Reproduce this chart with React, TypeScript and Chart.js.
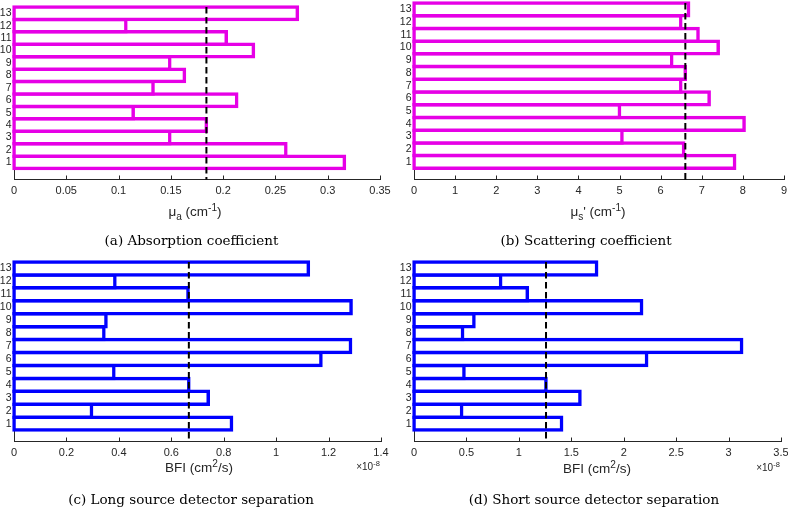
import React, { useEffect, useRef } from 'react';
import { Chart, registerables } from 'chart.js';

Chart.register(...registerables);

// ---------- data ----------
const SUBJECTS = [1, 2, 3, 4, 5, 6, 7, 8, 9, 10, 11, 12, 13];

// (a) absorption coefficient, cm^-1
const MU_A = [0.316, 0.26, 0.149, 0.184, 0.114, 0.213, 0.133, 0.163, 0.149, 0.229, 0.203, 0.107, 0.271];
// (b) reduced scattering coefficient, cm^-1
const MU_S = [7.8, 6.56, 5.06, 8.03, 5.0, 7.18, 6.49, 6.6, 6.27, 7.4, 6.91, 6.49, 6.68];
// (c) BFI long separation, x1e-8 cm^2/s
const BFI_LONG = [0.83, 0.296, 0.741, 0.667, 0.381, 1.171, 1.284, 0.343, 0.351, 1.286, 0.664, 0.385, 1.123];
// (d) BFI short separation, x1e-8 cm^2/s
const BFI_SHORT = [1.408, 0.455, 1.583, 1.259, 0.477, 2.219, 3.125, 0.464, 0.572, 2.171, 1.081, 0.827, 1.742];

const TICKS_A = [0, 0.05, 0.1, 0.15, 0.2, 0.25, 0.3, 0.35];
const TICK_LABELS_A = ['0', '0.05', '0.1', '0.15', '0.2', '0.25', '0.3', '0.35'];
const TICKS_B = [0, 1, 2, 3, 4, 5, 6, 7, 8, 9];
const TICK_LABELS_B = ['0', '1', '2', '3', '4', '5', '6', '7', '8', '9'];
const TICKS_C = [0, 0.2, 0.4, 0.6, 0.8, 1, 1.2, 1.4];
const TICK_LABELS_C = ['0', '0.2', '0.4', '0.6', '0.8', '1', '1.2', '1.4'];
const TICKS_D = [0, 0.5, 1, 1.5, 2, 2.5, 3, 3.5];
const TICK_LABELS_D = ['0', '0.5', '1', '1.5', '2', '2.5', '3', '3.5'];

const CAPTIONS = [
  '(a) Absorption coefficient',
  '(b) Scattering coefficient',
  '(c) Long source detector separation',
  '(d) Short source detector separation',
];

const MAGENTA = '#e600e6';
const BLUE = '#0000ff';
const AXIS_COLOR = '#262626';
const SANS = '"Liberation Sans", Arial, Helvetica, sans-serif';
const SERIF = '"DejaVu Serif", "Liberation Serif", serif';

const W = 788;
const H = 507;

function median(arr: number[]) {
  const s = [...arr].sort((a, b) => a - b);
  return s[Math.floor(s.length / 2)];
}

type PanelCfg = {
  values: number[];
  ticks: number[];
  tickLabels: string[];
  xMax: number;
  color: string;
  left: number;
  right: number;
  top: number;
  bottom: number;
};

const PANELS: PanelCfg[] = [
  { values: MU_A, ticks: TICKS_A, tickLabels: TICK_LABELS_A, xMax: 0.35, color: MAGENTA, left: 14, right: 380, top: 7, bottom: 179.5 },
  { values: MU_S, ticks: TICKS_B, tickLabels: TICK_LABELS_B, xMax: 9, color: MAGENTA, left: 414, right: 784, top: 3, bottom: 179.5 },
  { values: BFI_LONG, ticks: TICKS_C, tickLabels: TICK_LABELS_C, xMax: 1.4, color: BLUE, left: 14, right: 381, top: 262, bottom: 441.5 },
  { values: BFI_SHORT, ticks: TICKS_D, tickLabels: TICK_LABELS_D, xMax: 3.5, color: BLUE, left: 414, right: 781, top: 262, bottom: 441.5 },
];

const Y_AXIS_W = 14;
const X_AXIS_H = 20;
const BAR_BORDER = 3.5;

const medianPlugin = {
  id: 'medianLine',
  beforeDatasetsDraw(chart: any, _args: any, opts: any) {
    const { ctx, chartArea, scales } = chart;
    const xs = scales.x;
    const ys = scales.y;
    ctx.save();
    ctx.strokeStyle = AXIS_COLOR;
    ctx.lineWidth = 1;
    ctx.beginPath();
    for (const v of SUBJECTS) {
      const py = Math.round(ys.getPixelForValue(v)) + 0.5;
      ctx.moveTo(chartArea.left, py);
      ctx.lineTo(chartArea.left + 4.5, py);
    }
    for (const v of opts.ticks) {
      const px = Math.round(xs.getPixelForValue(v)) + 0.5;
      ctx.moveTo(px, chartArea.bottom);
      ctx.lineTo(px, chartArea.bottom - 4);
    }
    ctx.stroke();
    ctx.restore();
  },
  afterDatasetsDraw(chart: any, _args: any, opts: any) {
    const { ctx, chartArea, scales } = chart;
    const px = scales.x.getPixelForValue(opts.value);
    ctx.save();
    ctx.setLineDash([6.5, 3.5]);
    ctx.lineWidth = 2;
    ctx.strokeStyle = '#000';
    ctx.beginPath();
    ctx.moveTo(px, chartArea.top);
    ctx.lineTo(px, chartArea.bottom);
    ctx.stroke();
    ctx.restore();
  },
};

function Panel({ cfg }: { cfg: PanelCfg }) {
  const ref = useRef<HTMLCanvasElement>(null);
  useEffect(() => {
    const chart = new Chart(ref.current as HTMLCanvasElement, {
      type: 'bar',
      data: {
        datasets: [
          {
            data: SUBJECTS.map((s, i) => ({ x: cfg.values[i], y: s })),
            borderColor: cfg.color,
            backgroundColor: '#ffffff',
            borderWidth: BAR_BORDER,
            borderSkipped: false,
            inflateAmount: BAR_BORDER / 2,
            barPercentage: 1,
            categoryPercentage: 1,
            clip: false,
          } as any,
        ],
      },
      options: {
        indexAxis: 'y',
        responsive: false,
        animation: false,
        events: [],
        layout: {
          autoPadding: false,
          padding: {
            left: cfg.left - Y_AXIS_W,
            right: W - cfg.right,
            top: cfg.top,
            bottom: H - cfg.bottom - X_AXIS_H,
          },
        },
        plugins: {
          legend: { display: false },
          tooltip: { enabled: false },
          medianLine: { value: median(cfg.values), ticks: cfg.ticks },
        } as any,
        scales: {
          x: {
            type: 'linear',
            min: 0,
            max: cfg.xMax,
            offset: false,
            grid: { display: false, drawTicks: false },
            border: { display: true, color: AXIS_COLOR, width: 1 },
            afterBuildTicks: (s: any) => {
              s.ticks = cfg.ticks.map((v) => ({ value: v }));
            },
            afterFit: (s: any) => {
              s.height = X_AXIS_H;
              s.paddingLeft = 0;
              s.paddingRight = 0;
            },
            ticks: {
              autoSkip: false,
              maxRotation: 0,
              padding: 5,
              color: AXIS_COLOR,
              font: { family: SANS, size: 11 },
              callback: (_v: any, i: number) => cfg.tickLabels[i],
            },
          },
          y: {
            type: 'linear',
            min: -0.38,
            max: 13.5,
            offset: false,
            grid: { display: false, drawTicks: false, offset: false },
            border: { display: true, color: AXIS_COLOR, width: 1 },
            afterBuildTicks: (s: any) => {
              s.ticks = SUBJECTS.map((v) => ({ value: v }));
            },
            afterFit: (s: any) => {
              s.width = Y_AXIS_W;
              s.paddingTop = 0;
              s.paddingBottom = 0;
            },
            ticks: {
              autoSkip: false,
              padding: 2.5,
              color: AXIS_COLOR,
              font: { family: SANS, size: 10.5 },
              callback: (_v: any, i: number) => String(SUBJECTS[i]),
            },
          },
        } as any,
      },
      plugins: [medianPlugin as any],
    });
    return () => chart.destroy();
  }, [cfg]);
  return (
    <canvas
      ref={ref}
      width={W}
      height={H}
      style={{ position: 'absolute', left: 0, top: 0, width: W, height: H, display: 'block' }}
    />
  );
}

const sub = (t: string) => (
  <span style={{ fontSize: '0.75em', position: 'relative', top: '0.35em' }}>{t}</span>
);
const sup = (t: string) => (
  <span style={{ fontSize: '0.75em', position: 'relative', top: '-0.5em' }}>{t}</span>
);

function Label({ x, y, children, style }: { x: number; y: number; children: any; style?: any }) {
  return (
    <div
      style={{
        position: 'absolute',
        left: x,
        top: y,
        transform: 'translate(-50%, -50%)',
        whiteSpace: 'nowrap',
        lineHeight: 1,
        ...style,
      }}
    >
      {children}
    </div>
  );
}

export default function App() {
  const axisTitle = { font: `13.5px ${SANS}`, color: AXIS_COLOR };
  const caption = { font: `13.5px ${SERIF}`, color: '#000' };
  const expo = { font: `10px ${SANS}`, color: AXIS_COLOR };
  return (
    <div
      style={{
        position: 'absolute',
        left: 0,
        top: 0,
        width: W,
        height: H,
        overflow: 'hidden',
        background: '#fff',
      }}
    >
      {PANELS.map((p, i) => (
        <Panel key={i} cfg={p} />
      ))}
      <Label x={195} y={211} style={axisTitle}>
        μ{sub('a')} (cm{sup('-1')})
      </Label>
      <Label x={598} y={211} style={axisTitle}>
        μ{sub('s')}' (cm{sup('-1')})
      </Label>
      <Label x={199} y={467} style={axisTitle}>
        BFI (cm{sup('2')}/s)
      </Label>
      <Label x={597} y={468} style={axisTitle}>
        BFI (cm{sup('2')}/s)
      </Label>
      <Label x={368} y={466} style={expo}>
        ×10{sup('-8')}
      </Label>
      <Label x={768} y={467} style={expo}>
        ×10{sup('-8')}
      </Label>
      <Label x={191.5} y={239.5} style={caption}>
        {CAPTIONS[0]}
      </Label>
      <Label x={586} y={239.5} style={caption}>
        {CAPTIONS[1]}
      </Label>
      <Label x={191} y={498.5} style={caption}>
        {CAPTIONS[2]}
      </Label>
      <Label x={594} y={498.5} style={caption}>
        {CAPTIONS[3]}
      </Label>
    </div>
  );
}
